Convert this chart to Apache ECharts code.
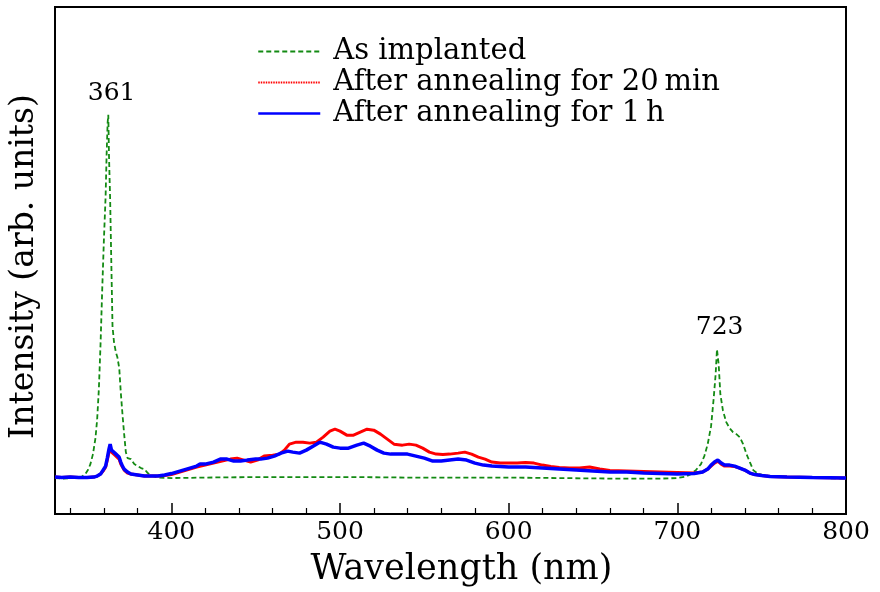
<!DOCTYPE html>
<html>
<head>
<meta charset="utf-8">
<script src="https://cdn.jsdelivr.net/npm/echarts@6/dist/echarts.min.js"></script>
<style>
html,body{margin:0;padding:0;background:#fff;}
#c{width:880px;height:592px;}
</style>
</head>
<body>
<div id="c"></div>
<script>
// ---- data (wavelength nm, intensity arb. units) ----
const seriesNames = ['As implanted', 'After annealing for 20\u2009min', 'After annealing for 1\u2009h'];
const majorTicks = [400, 500, 600, 700, 800];
const minorTicks = [340, 360, 380, 420, 440, 460, 480, 520, 540, 560, 580, 620, 640, 660, 680, 720, 740, 760, 780];

const wlAsImplanted = [331,336,341,345,347,349,350.5,352,353.5,355,356,357,358,359,360,361,361.6,362.2,362.6,363,363.7,364.3,365.1,366,367.1,368,369.1,370,371.1,372,373,374,376,378,380,382,384,386,389,392,400,420,450,480,510,540,570,600,630,660,690,700,705,708,711,714,716,718,720,721.5,722.7,723.5,724.5,725.5,727,729,731,733,735,737,739,741,743,745,748,755,770,785,800];
const intAsImplanted = [36,35.5,36,36.5,37.5,40,44,50,60,76,95,125,170,225,275,318,360,392,400,360,315,260,188,172,162,157,146,122,98,80,62,56,55,50,48,46,45,41,38,36.5,36,36.5,37,37,37,36.5,36.5,36.5,36,35.5,35.5,36,37.5,40,44,50,58,70,88,115,140,165,150,120,104,92,86,82,80,77,70,60,52,44,40,38,37,36,35.5,35];

const wl20min = [331,335,340,345,350,354,356,358,359.5,361,362,363,363.7,364.5,365.5,366.5,367.5,369,370,371,372,374,376,380,384,388,392,396,400,405,410,415,420,425,430,435,439,443,447,451,455,460,464,467,470,474,478,482,486,490,494,497,500,504,508,512,516,520,524,528,532,537,541,545,549,553,557,561,565,570,574,578,582,586,590,595,600,605,610,615,620,625,630,636,642,648,654,660,670,680,690,700,710,715,718,720,722,724,726,728,731,734,737,740,743,746,750,755,765,780,800];
const int20min = [37,36.5,37,36.5,36.5,37,38,40,43,47,54,62,66,62,60,59,57,55,50,47,44,41,40,39,38,38,38,38.5,39.5,42,44.5,47,49,51,53,55,56,54,52,54,58,59,60,64,70,72,72,71,72,77,83,85,83,79,79,82,85,84,80,75,70,69,70,69,66,62,60,59.5,60,61,62,60,57,55,52,51,51,51,51.5,51,49,47.5,46.5,46,46,47,45,43.5,43,42.5,42,41.5,41,42,45,48,51,53,50,48,48,47.5,46,44,41,39.5,38.5,37.5,37,36.5,36];

const wl1h = [331,335,340,345,350,354,356,358,359.5,361,362,363,363.7,364.5,365.5,366.5,367.5,369,370,371,372,374,376,380,384,388,392,396,400,405,410,415,417,420,425,429,433,437,441,445,450,453,457,461,465,469,472,476,480,484,488,492,496,500,505,510,514,518,522,526,530,535,540,545,550,555,560,565,570,575,580,585,590,600,610,620,630,640,650,660,670,680,690,700,710,715,718,720,722,724,726,728,731,734,737,740,743,746,750,755,765,780,800];
const int1h = [37,36.5,37,36.5,36.5,37,38,40,44,48,56,65,70,64,62,61,59,57,52,48,45,42,40,39,38,38,38,39,40.5,43,45.5,48,50,50,52,55,55,53,53,54,55,55,56,58,61,63,62,61,64,68,72,70,67,66,66,69,71,68,64,61,60,60,60,58,56,53,53,54,55,54,51,49,48,47,47,46,45,44,43,42,42,41,40.5,40,40.5,42,45,49,52,54,51,49,49,48,46,44,41,39.5,38.5,37.5,37,36.5,36];

const peakLabels = [{ name: '361', x: 362.2, y: 400 }, { name: '723', x: 722.7, y: 165 }];

function zip(xs, ys) { return xs.map((x, i) => [x, ys[i]]); }

const FONT = 'DejaVu Serif';
const GREEN = '#138a13', RED = '#ff0000', BLUE = '#0000ff';
const chart = echarts.init(document.getElementById('c'), null, { renderer: 'canvas' });
chart.setOption({
  animation: false,
  backgroundColor: '#fff',
  textStyle: { fontFamily: FONT, color: '#000' },
  grid: { left: 54, right: 34, top: 7, bottom: 77, show: true, borderColor: '#000', borderWidth: 2, backgroundColor: 'transparent' },
  legend: {
    orient: 'vertical', left: 252, top: 31, itemGap: 0, itemWidth: 62, itemHeight: 14,
    itemStyle: { opacity: 0 },
    textStyle: { fontFamily: FONT, fontSize: 29, color: '#000', lineHeight: 31, padding: [0, 0, 0, 8] },
    data: [
      { name: seriesNames[0], lineStyle: { color: GREEN, width: 1.8, type: [5, 3] } },
      { name: seriesNames[1], lineStyle: { color: RED, width: 2, type: [1.5, 1] } },
      { name: seriesNames[2], lineStyle: { color: BLUE, width: 2.5, type: 'solid' } }
    ]
  },
  xAxis: [{
    type: 'value', min: 331, max: 800,
    name: 'Wavelength (nm)', nameLocation: 'middle', nameGap: 38,
    nameTextStyle: { fontFamily: FONT, fontSize: 35, color: '#000', padding: [0, 0, 0, 22] },
    axisLine: { show: true, onZero: false, lineStyle: { color: '#000', width: 2 } },
    axisTick: { show: true, inside: true, length: 11, customValues: majorTicks, lineStyle: { color: '#000', width: 1.5 } },
    axisLabel: { show: true, customValues: majorTicks, fontFamily: FONT, fontSize: 25, color: '#000', margin: 6 },
    splitLine: { show: false }
  }, {
    type: 'value', min: 331, max: 800, position: 'bottom',
    axisLine: { show: false },
    axisTick: { show: true, inside: true, length: 6, customValues: minorTicks, lineStyle: { color: '#000', width: 1.2 } },
    axisLabel: { show: false },
    splitLine: { show: false }
  }],
  yAxis: {
    type: 'value', min: 0, max: 508,
    name: 'Intensity (arb. units)', nameLocation: 'middle', nameGap: 14,
    nameTextStyle: { fontFamily: FONT, fontSize: 33, color: '#000', padding: [0, 12, 0, 0] },
    axisLine: { show: true, lineStyle: { color: '#000', width: 2 } },
    axisTick: { show: false }, axisLabel: { show: false }, splitLine: { show: false }
  },
  series: [{
    name: seriesNames[0], type: 'line', xAxisIndex: 0, data: zip(wlAsImplanted, intAsImplanted),
    symbol: 'none', showSymbol: false, z: 2,
    lineStyle: { color: GREEN, width: 1.8, type: [5, 3] },
    itemStyle: { color: GREEN },
    markPoint: {
      symbol: 'circle', symbolSize: 0,
      label: { show: true, position: 'top', distance: 9, offset: [4, 0], fontFamily: FONT, fontSize: 25, color: '#000', formatter: p => p.name },
      data: peakLabels.map(p => ({ name: p.name, coord: [p.x, p.y] }))
    }
  }, {
    name: seriesNames[1], type: 'line', xAxisIndex: 0, data: zip(wl20min, int20min),
    symbol: 'none', showSymbol: false, z: 3,
    lineStyle: { color: RED, width: 3, type: 'solid' },
    itemStyle: { color: RED }
  }, {
    name: seriesNames[2], type: 'line', xAxisIndex: 0, data: zip(wl1h, int1h),
    symbol: 'none', showSymbol: false, z: 4,
    lineStyle: { color: BLUE, width: 3.5 },
    itemStyle: { color: BLUE }
  }]
});
</script>
</body>
</html>
